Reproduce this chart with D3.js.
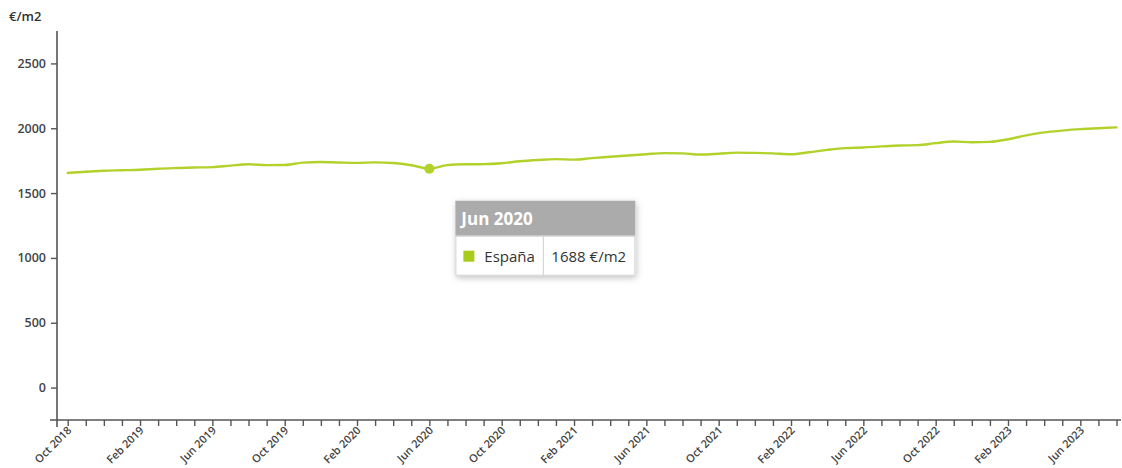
<!DOCTYPE html>
<html>
<head>
<meta charset="utf-8">
<script src="https://cdn.jsdelivr.net/npm/d3@7"></script>
<style>
  html, body { margin: 0; padding: 0; background: #fff; }
  svg { display: block; font-family: "Open Sans", "Noto Sans", sans-serif; }
</style>
</head>
<body>
<svg id="chart" width="1122" height="468"></svg>
<script>
// Monthly price per square metre, Oct 2018 – Aug 2023
const monthNames = ["Jan","Feb","Mar","Apr","May","Jun","Jul","Aug","Sep","Oct","Nov","Dec"];
const months = [];
for (let i = 0; i < 59; i++) {
  const m = (9 + i) % 12;
  const y = 2018 + Math.floor((9 + i) / 12);
  months.push(monthNames[m] + " " + y);
}
const espana = [
  1655, 1665, 1672, 1676, 1680, 1688, 1693, 1697, 1700, 1712,
  1722, 1716, 1717, 1735, 1740, 1736, 1733, 1737, 1732, 1715,
  1688, 1716, 1722, 1723, 1730, 1745, 1755, 1762, 1758, 1770,
  1780, 1790, 1800, 1808, 1806, 1797, 1803, 1812, 1810, 1806,
  1800, 1815, 1833, 1847, 1852, 1860, 1867, 1870, 1885, 1898,
  1892, 1895, 1915, 1945, 1968, 1982, 1993, 2000, 2007
];
const yTicks = [0, 500, 1000, 1500, 2000, 2500];
const seriesName = "España";
const unit = "€/m2";
const highlightIndex = 20; // Jun 2020

const svg = d3.select("#chart");
const lineColor = "#b3d12b";
const axisColor = "#555";
const fontFamily = '"Open Sans", "Noto Sans", sans-serif';

const x = d3.scalePoint().domain(months).range([67.7, 1116.5]);
const y = d3.scaleLinear().domain([-250, 2750]).range([420, 31]);

// Y axis
const yAxis = svg.append("g")
  .attr("transform", "translate(57,0)")
  .call(d3.axisLeft(y).tickValues(yTicks).tickFormat(d3.format("d"))
    .tickSize(6).tickSizeOuter(0).tickPadding(5));
yAxis.attr("font-family", fontFamily);
yAxis.select(".domain").remove();
yAxis.append("line")
  .attr("x1", 0).attr("x2", 0)
  .attr("y1", y(2750)).attr("y2", 427)
  .attr("stroke", axisColor).attr("stroke-width", 1.6);
yAxis.selectAll(".tick line").attr("stroke", axisColor).attr("stroke-width", 1.4);
yAxis.selectAll(".tick text")
  .attr("fill", "#444").attr("font-size", 12.5).attr("font-weight", 600);

// Unit label
svg.append("text")
  .attr("x", 9).attr("y", 21)
  .attr("fill", "#333").attr("font-size", 13).attr("font-weight", 600)
  .text(unit);

// X axis
const xAxis = svg.append("g")
  .attr("transform", "translate(0,420)")
  .call(d3.axisBottom(x).tickSize(6).tickSizeOuter(0)
    .tickFormat((d, i) => i % 4 === 0 ? d : ""));
xAxis.attr("font-family", fontFamily);
xAxis.select(".domain").remove();
xAxis.append("line")
  .attr("x1", 50).attr("x2", 1121)
  .attr("y1", 0).attr("y2", 0)
  .attr("stroke", axisColor).attr("stroke-width", 1.6);
xAxis.selectAll(".tick line").attr("stroke", axisColor).attr("stroke-width", 1.4);
xAxis.selectAll(".tick text")
  .attr("fill", "#444").attr("font-size", 11).attr("font-weight", 600)
  .attr("text-anchor", "end")
  .attr("dy", null)
  .attr("y", 0)
  .attr("transform", "translate(4,11) rotate(-45)");

// Series line
const line = d3.line()
  .x((d, i) => x(months[i]))
  .y(d => y(d))
  .curve(d3.curveMonotoneX);

svg.append("path")
  .datum(espana)
  .attr("fill", "none")
  .attr("stroke", lineColor)
  .attr("stroke-width", 2.4)
  .attr("stroke-linejoin", "round")
  .attr("stroke-linecap", "round")
  .attr("d", line);

// Highlighted point
const px = x(months[highlightIndex]);
const py = y(espana[highlightIndex]);
svg.append("circle")
  .attr("cx", px).attr("cy", py).attr("r", 5)
  .attr("fill", lineColor);

// Tooltip
const defs = svg.append("defs");
const f = defs.append("filter").attr("id", "shadow")
  .attr("x", "-20%").attr("y", "-30%").attr("width", "140%").attr("height", "160%");
f.append("feDropShadow").attr("dx", 1).attr("dy", 2).attr("stdDeviation", 3)
  .attr("flood-color", "#000").attr("flood-opacity", 0.25);

const tx = px + 26, ty = py + 32, tw = 180, hh = 35, bh = 40;
const tip = svg.append("g").attr("transform", `translate(${tx},${ty})`);
tip.append("rect")
  .attr("width", tw).attr("height", hh + bh)
  .attr("fill", "#fff").attr("filter", "url(#shadow)");
tip.append("rect")
  .attr("width", tw).attr("height", hh)
  .attr("fill", "#ababab");
tip.append("text")
  .attr("x", 6).attr("y", 24)
  .attr("fill", "#fff").attr("font-size", 17).attr("font-weight", 700)
  .text(months[highlightIndex]);
tip.append("rect")
  .attr("x", 0.5).attr("y", hh + 0.5)
  .attr("width", tw - 1).attr("height", bh - 1)
  .attr("fill", "#fff").attr("stroke", "#cfcfcf");
tip.append("line")
  .attr("x1", 88).attr("x2", 88)
  .attr("y1", hh).attr("y2", hh + bh)
  .attr("stroke", "#cfcfcf");
tip.append("rect")
  .attr("x", 8).attr("y", hh + 15)
  .attr("width", 11).attr("height", 11)
  .attr("fill", "#a9cc1c");
tip.append("text")
  .attr("x", 29).attr("y", hh + 26)
  .attr("fill", "#333").attr("font-size", 15)
  .text(seriesName);
tip.append("text")
  .attr("x", 96).attr("y", hh + 26)
  .attr("fill", "#333").attr("font-size", 15)
  .text(espana[highlightIndex] + " " + unit);
</script>
</body>
</html>
